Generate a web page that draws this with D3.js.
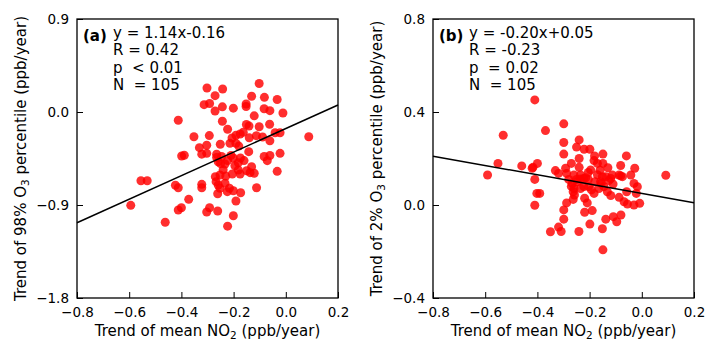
<!DOCTYPE html>
<html>
<head>
<meta charset="utf-8">
<script src="https://cdn.jsdelivr.net/npm/d3@7.9.0/dist/d3.min.js"></script>
<style>
  body { margin: 0; background: #fff; }
  svg { display: block; font-family: "DejaVu Sans", sans-serif; }
  text { white-space: pre; }
</style>
</head>
<body>
<svg id="chart" width="707" height="344"></svg>
<script>
// x: trend of mean NO2, y: trend of O3 percentile (ppb/year)
const xTicks = [-0.8, -0.6, -0.4, -0.2, 0.0, 0.2];
const yTicksA = [-1.8, -0.9, 0.0, 0.9];
const yTicksB = [-0.4, 0.0, 0.4, 0.8];

const pointsA = [
  [-0.302, 0.232], [-0.242, 0.223], [-0.102, 0.276], [-0.271, 0.158], [-0.131, 0.152],
  [-0.082, 0.142], [-0.033, 0.121], [-0.313, 0.071], [-0.292, 0.082], [-0.243, 0.050],
  [-0.201, 0.037], [-0.152, 0.077], [-0.152, 0.053], [-0.083, 0.032], [-0.061, 0.013],
  [-0.271, 0.010], [-0.011, -0.010], [-0.412, -0.080], [-0.243, -0.089], [-0.121, -0.037],
  [-0.151, -0.121], [-0.141, -0.135], [-0.102, -0.143], [-0.062, -0.119], [-0.223, -0.167],
  [-0.163, -0.196], [-0.175, -0.213], [-0.191, -0.225], [-0.206, -0.252], [-0.352, -0.240],
  [-0.293, -0.228], [-0.113, -0.229], [-0.089, -0.242], [-0.041, -0.201], [-0.022, -0.201],
  [-0.061, -0.279], [0.088, -0.240], [-0.331, -0.345], [-0.303, -0.321], [-0.251, -0.312],
  [-0.214, -0.303], [-0.191, -0.303], [-0.142, -0.384], [-0.322, -0.408], [-0.303, -0.400],
  [-0.399, -0.426], [-0.389, -0.418], [-0.265, -0.408], [-0.083, -0.431], [-0.061, -0.421],
  [-0.022, -0.400], [-0.246, -0.431], [-0.201, -0.445], [-0.174, -0.445], [-0.223, -0.469],
  [-0.233, -0.503], [-0.259, -0.481], [-0.182, -0.491], [-0.071, -0.471], [-0.182, -0.561],
  [-0.175, -0.600], [-0.150, -0.568], [-0.131, -0.529], [-0.121, -0.593], [-0.137, -0.587],
  [-0.033, -0.574], [-0.270, -0.626], [-0.252, -0.610], [-0.267, -0.674], [-0.259, -0.706],
  [-0.233, -0.690], [-0.216, -0.738], [-0.201, -0.762], [-0.224, -0.771], [-0.173, -0.781],
  [-0.252, -0.738], [-0.261, -0.791], [-0.112, -0.733], [-0.423, -0.709], [-0.412, -0.733],
  [-0.322, -0.700], [-0.322, -0.733], [-0.372, -0.845], [-0.191, -0.861], [-0.412, -0.948],
  [-0.400, -0.927], [-0.303, -0.968], [-0.292, -0.927], [-0.261, -0.958], [-0.201, -1.004],
  [-0.223, -1.105], [-0.555, -0.665], [-0.531, -0.665], [-0.594, -0.903], [-0.462, -1.067],
  [-0.210, -0.420], [-0.195, -0.520], [-0.240, -0.560], [-0.160, -0.470], [-0.230, -0.620],
  [-0.180, -0.330], [-0.250, -0.500], [-0.265, -0.440], [-0.140, -0.250], [-0.205, -0.600]
];

const pointsB = [
  [-0.410, 0.452], [-0.369, 0.320], [-0.531, 0.300], [-0.299, 0.349], [-0.299, 0.269],
  [-0.240, 0.280], [-0.250, 0.249], [-0.221, 0.240], [-0.199, 0.240], [-0.299, 0.219],
  [-0.181, 0.211], [-0.149, 0.219], [-0.059, 0.211], [-0.183, 0.191], [-0.170, 0.179],
  [-0.149, 0.179], [-0.196, 0.151], [-0.081, 0.170], [-0.027, 0.158], [0.092, 0.128],
  [-0.400, 0.179], [-0.417, 0.162], [-0.410, 0.110], [-0.331, 0.148], [-0.319, 0.136],
  [-0.292, 0.158], [-0.288, 0.136], [-0.270, 0.179], [-0.240, 0.162], [-0.260, 0.129],
  [-0.235, 0.129], [-0.222, 0.114], [-0.138, 0.122], [-0.113, 0.129], [-0.087, 0.129],
  [-0.158, 0.100], [-0.126, 0.105], [-0.030, 0.093], [-0.591, 0.129], [-0.551, 0.179],
  [-0.460, 0.168], [-0.420, 0.158], [-0.402, 0.050], [-0.391, 0.050], [-0.410, -0.001],
  [-0.247, 0.100], [-0.267, 0.093], [-0.260, 0.071], [-0.263, 0.057], [-0.258, 0.043],
  [-0.263, 0.024], [-0.204, 0.079], [-0.193, 0.065], [-0.183, 0.050], [-0.145, 0.079],
  [-0.132, 0.057], [-0.119, 0.041], [-0.081, 0.125], [-0.042, 0.129], [-0.087, 0.033],
  [-0.068, 0.014], [-0.055, 0.004], [-0.030, 0.000], [-0.008, 0.007], [-0.058, 0.057],
  [-0.017, 0.079], [-0.021, 0.050], [-0.299, -0.021], [-0.299, -0.061], [-0.288, 0.009],
  [-0.219, 0.029], [-0.209, 0.009], [-0.190, -0.024], [-0.219, -0.031], [-0.350, -0.115],
  [-0.319, -0.095], [-0.309, -0.114], [-0.199, -0.082], [-0.241, -0.114], [-0.138, -0.061],
  [-0.109, -0.050], [-0.096, -0.072], [-0.080, -0.043], [-0.151, -0.102], [-0.149, -0.193],
  [-0.164, 0.071], [-0.155, 0.093], [-0.235, 0.071], [-0.222, 0.079], [-0.235, 0.112],
  [-0.215, 0.117], [-0.151, 0.122], [-0.119, 0.114], [-0.074, 0.122], [-0.250, 0.110],
  [-0.180, 0.100], [-0.170, 0.130], [-0.205, 0.140], [-0.240, 0.200], [-0.110, 0.090],
  [-0.270, 0.080], [-0.160, 0.150], [-0.130, 0.160], [-0.205, 0.110], [-0.280, 0.110]
];

const fitA = { slope: 1.14, intercept: -0.16 };
const fitB = { slope: -0.20, intercept: 0.05 };
const statsA = ["y = 1.14x-0.16", "R = 0.42", "p  < 0.01", "N  = 105"];
const statsB = ["y = -0.20x+0.05", "R = -0.23", "p  = 0.02", "N  = 105"];

const svg = d3.select("#chart");
const plotTop = 19, plotH = 279, plotW = 261;

function drawPanel(cfg) {
  const g = svg.append("g").attr("transform", `translate(${cfg.left},${plotTop})`);
  const x = d3.scaleLinear().domain([-0.8, 0.2]).range([0, plotW]);
  const y = d3.scaleLinear().domain(cfg.yDomain).range([plotH, 0]);

  const xAxis = g.append("g")
    .attr("transform", `translate(0,${plotH})`)
    .call(d3.axisBottom(x).tickValues(xTicks).tickFormat(d3.format(".1f"))
      .tickSize(-6).tickPadding(9));
  const yAxis = g.append("g")
    .call(d3.axisLeft(y).tickValues(cfg.yTicks).tickFormat(d3.format(".1f"))
      .tickSize(-6).tickPadding(8));
  [xAxis, yAxis].forEach(a => {
    a.attr("font-family", null).attr("font-size", null);
    a.select(".domain").remove();
    a.selectAll("text").attr("font-size", 13.5).attr("fill", "#000");
    a.selectAll("line").attr("stroke", "#000").attr("stroke-width", 1);
  });

  g.selectAll("circle").data(cfg.points).join("circle")
    .attr("cx", d => x(d[0]))
    .attr("cy", d => y(d[1]))
    .attr("r", 4.5)
    .attr("fill", "#ff0000")
    .attr("fill-opacity", 0.82);

  const line = d3.line().x(d => x(d)).y(d => y(cfg.fit.slope * d + cfg.fit.intercept));
  g.append("path").datum([-0.8, 0.2])
    .attr("d", line)
    .attr("fill", "none")
    .attr("stroke", "#000")
    .attr("stroke-width", 1.5);

  g.append("rect")
    .attr("width", plotW).attr("height", plotH)
    .attr("fill", "none").attr("stroke", "#000").attr("stroke-width", 1.3);

  // panel tag and statistics
  g.append("text").attr("x", 6).attr("y", 22)
    .attr("font-size", 15).attr("font-weight", "bold").text(cfg.tag);
  cfg.stats.forEach((s, i) => {
    g.append("text").attr("x", cfg.textX).attr("y", 19 + i * 17.4)
      .attr("font-size", 15).text(s);
  });

  // x label
  const xl = g.append("text").attr("x", plotW / 2).attr("y", plotH + 38)
    .attr("text-anchor", "middle").attr("font-size", 15);
  xl.append("tspan").text("Trend of mean NO");
  xl.append("tspan").attr("font-size", 10.5).attr("dy", 3).text("2");
  xl.append("tspan").attr("dy", -3).text(" (ppb/year)");

  // y label
  const yl = g.append("text")
    .attr("transform", `translate(${cfg.yLabelX},${plotH / 2}) rotate(-90)`)
    .attr("text-anchor", "middle").attr("font-size", 15);
  yl.append("tspan").text(cfg.yLabel);
  yl.append("tspan").attr("font-size", 10.5).attr("dy", 3).text("3");
  yl.append("tspan").attr("dy", -3).text(" percentile (ppb/year)");
}

drawPanel({
  left: 77, yDomain: [-1.8, 0.9], yTicks: yTicksA, points: pointsA, fit: fitA,
  tag: "(a)", stats: statsA, textX: 36, yLabelX: -51, yLabel: "Trend of 98% O"
});
drawPanel({
  left: 433, yDomain: [-0.4, 0.8], yTicks: yTicksB, points: pointsB, fit: fitB,
  tag: "(b)", stats: statsB, textX: 36, yLabelX: -51, yLabel: "Trend of 2% O"
});
</script>
</body>
</html>
